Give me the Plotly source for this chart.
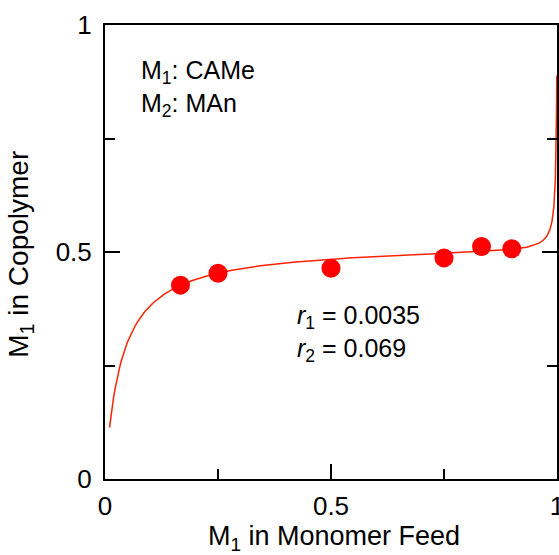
import numpy as np
import plotly.graph_objects as go

# Experimental data
feed_f1 = [0.167, 0.25, 0.5, 0.75, 0.833, 0.9]
copoly_F1 = [0.427, 0.453, 0.464, 0.487, 0.512, 0.507]

# Reactivity ratios shown on the chart (Mayo-Lewis curve)
r1 = 0.0035
r2 = 0.069

tick_vals = [0, 0.5, 1]
tick_text = ["0", "0.5", "1"]
minor_vals = [0.25, 0.75]

f = np.concatenate([np.linspace(0.01, 0.9, 300), np.linspace(0.9, 0.9995, 300)])
g = 1 - f
F = (r1 * f**2 + f * g) / (r1 * f**2 + 2 * f * g + r2 * g**2)

fig = go.Figure()
fig.add_trace(go.Scatter(x=f, y=F, mode="lines", line=dict(color="#ff2200", width=1.5),
                         hoverinfo="skip", showlegend=False))
fig.add_trace(go.Scatter(x=feed_f1, y=copoly_F1, mode="markers",
                         marker=dict(color="#ff0000", size=19), showlegend=False))

font = "Liberation Sans, Arial, Helvetica, sans-serif"
axis_common = dict(
    range=[0, 1], showgrid=False, zeroline=False, showline=True, linecolor="black",
    linewidth=2, ticks="inside", ticklen=15, tickwidth=2, tickcolor="black",
    tickvals=tick_vals, ticktext=tick_text, ticklabeloverflow="allow", automargin=False,
    tickfont=dict(family=font, size=26, color="black"),
    minor=dict(tickvals=minor_vals, ticks="inside", ticklen=10, tickwidth=2, tickcolor="black"),
)
fig.update_xaxes(**axis_common, mirror=True, ticklabelstandoff=3)
fig.update_yaxes(**axis_common, mirror="allticks", ticklabelstandoff=6)

# Axis titles
fig.add_annotation(x=-0.186, y=0.496, xref="paper", yref="paper", xanchor="center", yanchor="middle",
                   text="M<sub>1</sub> in Copolymer", textangle=-90, showarrow=False,
                   font=dict(family=font, size=28, color="black"))
fig.add_annotation(x=0.507, y=-0.131, xref="paper", yref="paper", xanchor="center", yanchor="middle",
                   text="M<sub>1</sub> in Monomer Feed", showarrow=False,
                   font=dict(family=font, size=27, color="black"))

fig.add_annotation(x=0.075, y=0.86, xref="x", yref="y", xanchor="left", yanchor="middle",
                   text="M<sub>1</sub>: CAMe<br>M<sub>2</sub>: MAn", showarrow=False, align="left",
                   font=dict(family=font, size=25, color="black"))
fig.add_annotation(x=0.42, y=0.32, xref="x", yref="y", xanchor="left", yanchor="middle",
                   text="<i>r</i><sub>1</sub> = 0.0035<br><i>r</i><sub>2</sub> = 0.069", showarrow=False, align="left",
                   font=dict(family=font, size=25, color="black"))

fig.update_layout(width=559, height=555, margin=dict(l=105, r=2, t=25, b=76),
                  plot_bgcolor="white", paper_bgcolor="white")
fig.write_html("out.html")
